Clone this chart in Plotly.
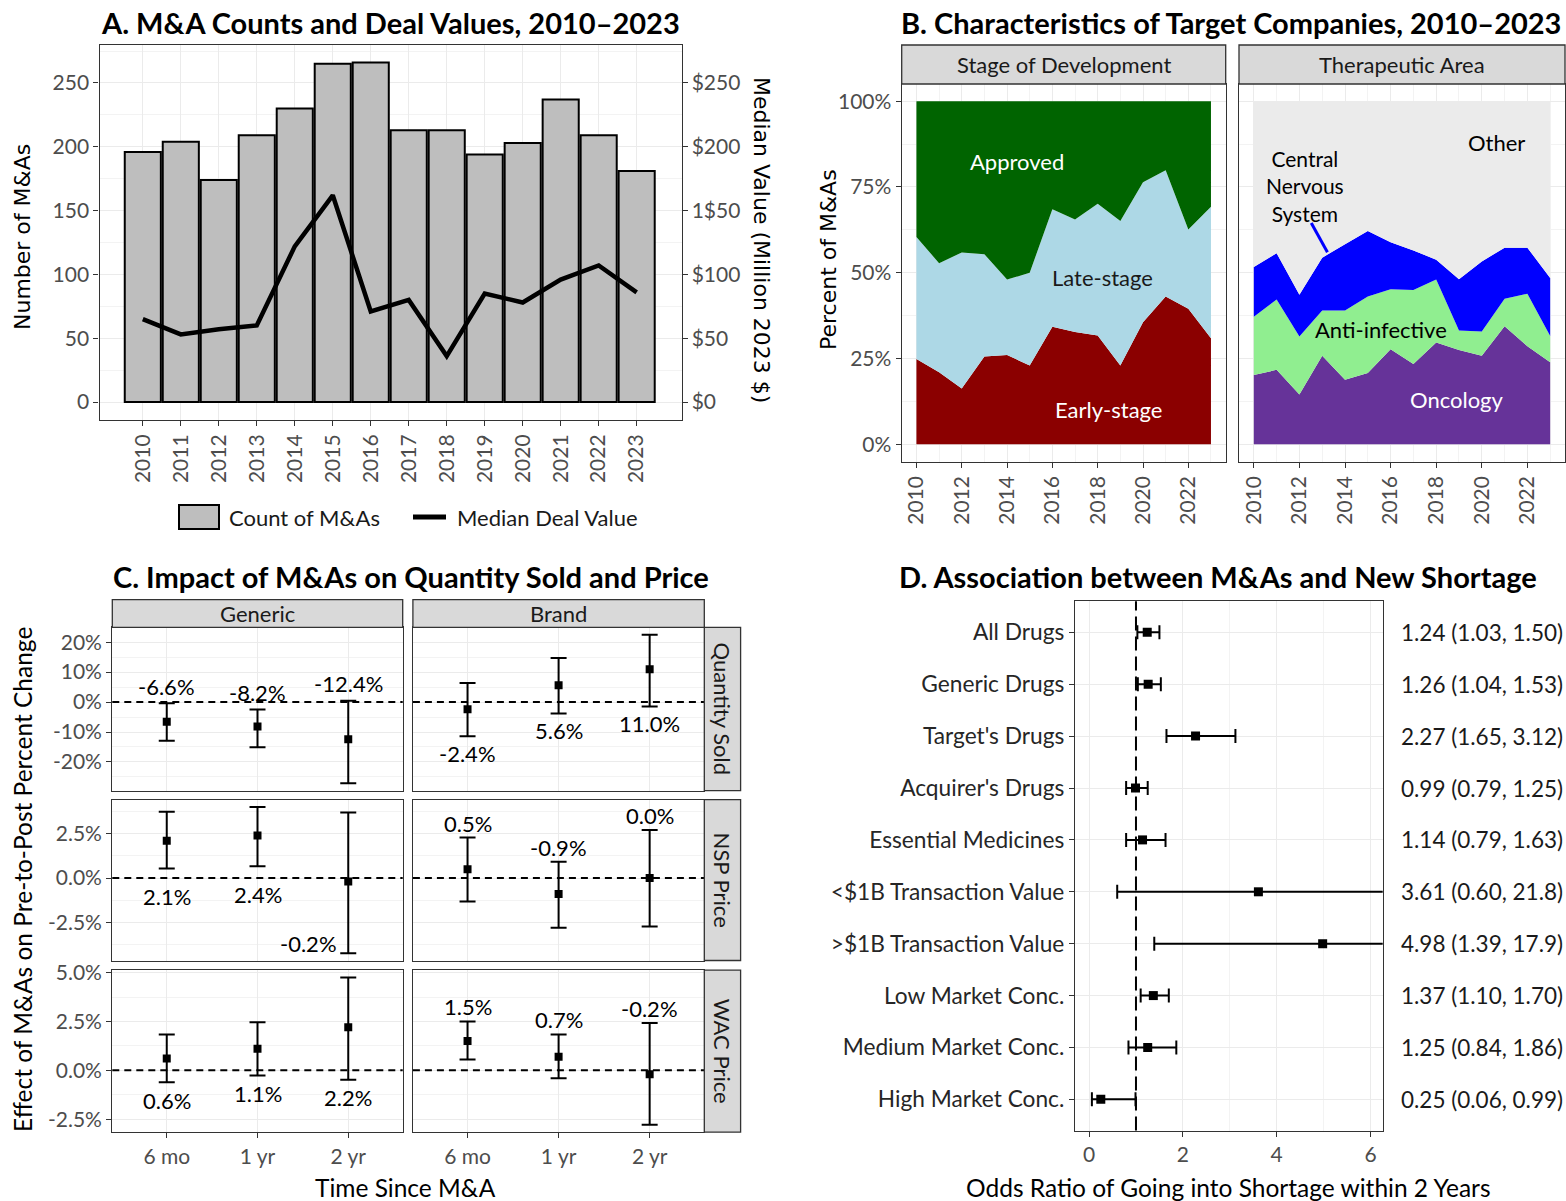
import plotly.graph_objects as go

W, H = 1566, 1201
FONT = "Lato, 'Open Sans', sans-serif"
WIDE = "'DejaVu Sans', Verdana, sans-serif"
TICK_GRAY = "#4D4D4D"
BORDER = "#333333"
GRID = "#EBEBEB"
GRID_MINOR = "#F3F3F3"

# ---------------- data ----------------
years = list(range(2010, 2024))
ma_counts = [196, 204, 174, 209, 230, 265, 266, 213, 213, 194, 203, 237, 209, 181]
median_value = [65, 53, 57, 60, 122, 162, 71, 80, 36, 85, 78, 96, 107, 86]
count_ticks = [0, 50, 100, 150, 200, 250]
value_ticks = [0, 50, 100, 150, 200, 250]
value_ticktext = ["$0", "$50", "$100", "1$50", "$200", "$250"]

# Panel B: shares (%) per year
stage_early = [24.9, 21.0, 16.3, 25.6, 26.0, 23.0, 34.3, 32.7, 31.7, 23.0, 35.6, 43.1, 39.5, 30.9]
stage_late = [35.5, 31.8, 39.6, 29.8, 22.0, 27.0, 34.2, 32.8, 38.4, 42.1, 40.8, 36.8, 23.1, 38.3]
stage_approved = [39.6, 47.2, 44.1, 44.6, 52.0, 50.0, 31.5, 34.5, 29.9, 34.9, 23.6, 20.1, 37.4, 30.8]

ther_oncology = [20.2, 21.7, 14.5, 25.8, 18.8, 20.8, 27.7, 23.4, 29.7, 27.5, 25.8, 34.4, 28.6, 23.9]
ther_antiinf = [17.0, 20.5, 16.9, 13.2, 20.2, 22.3, 17.5, 21.6, 18.3, 5.7, 7.1, 8.0, 15.3, 7.7]
ther_cns = [14.5, 13.5, 12.2, 15.4, 19.3, 19.1, 13.7, 11.5, 5.8, 14.9, 20.4, 14.9, 13.4, 16.9]
ther_other = [48.3, 44.3, 56.4, 45.6, 41.7, 37.8, 41.1, 43.5, 46.2, 51.9, 46.7, 42.7, 42.7, 51.5]
pct_ticks = [0, 25, 50, 75, 100]
pct_ticktext = ["0%", "25%", "50%", "75%", "100%"]

# Panel C: estimates and 95% CI (percent)
time_cats = ["6 mo", "1 yr", "2 yr"]
qs_generic_est = [-6.6, -8.2, -12.4]
qs_generic_lo = [-12.9, -15.1, -27.1]
qs_generic_hi = [-0.4, -2.5, 0.4]
qs_brand_est = [-2.4, 5.6, 11.0]
qs_brand_lo = [-11.4, -3.8, -1.5]
qs_brand_hi = [6.4, 14.7, 22.5]
nsp_generic_est = [2.1, 2.4, -0.2]
nsp_generic_lo = [0.53, 0.67, -4.24]
nsp_generic_hi = [3.74, 4.01, 3.69]
nsp_brand_est = [0.5, -0.9, 0.0]
nsp_brand_lo = [-1.33, -2.80, -2.73]
nsp_brand_hi = [2.29, 0.92, 2.71]
wac_generic_est = [0.6, 1.1, 2.2]
wac_generic_lo = [-0.61, -0.27, -0.48]
wac_generic_hi = [1.83, 2.46, 4.75]
wac_brand_est = [1.5, 0.7, -0.2]
wac_brand_lo = [0.55, -0.40, -2.79]
wac_brand_hi = [2.50, 1.83, 2.42]
qs_ticks = [-20, -10, 0, 10, 20]
qs_ticktext = ["-20%", "-10%", "0%", "10%", "20%"]
nsp_ticks = [-2.5, 0, 2.5]
nsp_ticktext = ["-2.5%", "0.0%", "2.5%"]
wac_ticks = [-2.5, 0, 2.5, 5.0]
wac_ticktext = ["-2.5%", "0.0%", "2.5%", "5.0%"]

# Panel D: odds ratios
d_cats = ["All Drugs", "Generic Drugs", "Target's Drugs", "Acquirer's Drugs",
          "Essential Medicines", "<$1B Transaction Value", ">$1B Transaction Value",
          "Low Market Conc.", "Medium Market Conc.", "High Market Conc."]
d_or = [1.24, 1.26, 2.27, 0.99, 1.14, 3.61, 4.98, 1.37, 1.25, 0.25]
d_lo = [1.03, 1.04, 1.65, 0.79, 0.79, 0.60, 1.39, 1.10, 0.84, 0.06]
d_hi = [1.50, 1.53, 3.12, 1.25, 1.63, 21.8, 17.9, 1.70, 1.86, 0.99]
d_ticks = [0, 2, 4, 6]


# ---------------- helpers ----------------
def dom_x(a, b):
    return [a / W, b / W]


def dom_y(top, bottom):
    return [1 - bottom / H, 1 - top / H]


def axis_style(**kw):
    d = dict(showline=True, mirror=True, linecolor=BORDER, linewidth=1.3,
             ticks="outside", ticklen=5, tickwidth=1.1, tickcolor=BORDER,
             showgrid=True, gridcolor=GRID, gridwidth=1.2, zeroline=False,
             automargin=False,
             tickfont=dict(family=FONT, size=21, color=TICK_GRAY))
    d.update(kw)
    return d


def minor_vals(ticks):
    step = ticks[1] - ticks[0]
    return [ticks[0] - step / 2 + i * step for i in range(len(ticks) + 1)]


fig = go.Figure()
layout = {}
shapes = []
ann = []


def text(x, y, t, size=22, color="black", family=FONT, xanchor="center", yanchor="middle",
         xref="paper", yref="paper", angle=0, xshift=0, yshift=0):
    ann.append(dict(x=x, y=y, text=t, xref=xref, yref=yref, showarrow=False,
                    xanchor=xanchor, yanchor=yanchor, textangle=angle,
                    xshift=xshift, yshift=yshift,
                    font=dict(family=family, size=size, color=color)))


def strip(x0, x1, y0, y1, label, angle=0):
    shapes.append(dict(type="rect", xref="paper", yref="paper",
                       x0=x0 / W, x1=x1 / W, y0=1 - y1 / H, y1=1 - y0 / H,
                       fillcolor="#D9D9D9", line=dict(color=BORDER, width=1.3), layer="above"))
    text((x0 + x1) / 2 / W, 1 - (y0 + y1) / 2 / H, label, size=22, color="#1A1A1A", angle=angle)


TITLE_SIZE = 29

# ---------------- Panel A ----------------
fig.add_trace(go.Bar(x=years, y=ma_counts, width=0.95, xaxis="x", yaxis="y",
                     marker=dict(color="#BEBEBE", line=dict(color="black", width=2)),
                     showlegend=False, name="Count of M&As"))
fig.add_trace(go.Scatter(x=years, y=median_value, mode="lines", xaxis="x", yaxis="y2",
                         line=dict(color="black", width=4.5), showlegend=False,
                         name="Median Deal Value"))
a_range = [-13.9, 280]
layout["xaxis"] = axis_style(domain=dom_x(99.5, 681.5), anchor="y", range=[2008.86, 2024.18],
                             tickvals=years, ticktext=[str(y) for y in years], tickangle=-90)
layout["yaxis"] = axis_style(domain=dom_y(44.7, 419.8), anchor="x", range=a_range,
                             tickvals=count_ticks,
                             minor=dict(tickvals=minor_vals(count_ticks), showgrid=True,
                                        gridcolor=GRID_MINOR, gridwidth=0.8))
layout["yaxis2"] = axis_style(overlaying="y", side="right", anchor="x", range=a_range,
                              tickvals=value_ticks, ticktext=value_ticktext,
                              showgrid=False, showline=False, mirror=False)

text(99 / W, 1 - 22 / H, "<b>A. M&A Counts and Deal Values, 2010–2023</b>", size=TITLE_SIZE, xanchor="left")
text(22 / W, 1 - 237 / H, "Number of M&As", size=22, family=WIDE, angle=-90)
text(762 / W, 1 - 240 / H, "Median Value (Million 2023 $)", size=22, family=WIDE, angle=90)

# legend
shapes.append(dict(type="rect", xref="paper", yref="paper", x0=179 / W, x1=219 / W,
                   y0=1 - 529 / H, y1=1 - 505 / H, fillcolor="#BEBEBE",
                   line=dict(color="black", width=2)))
text(227 / W, 1 - 517 / H, "Count of M&As", size=22, color="#1A1A1A", xanchor="left")
shapes.append(dict(type="line", xref="paper", yref="paper", x0=413 / W, x1=446 / W,
                   y0=1 - 517 / H, y1=1 - 517 / H, line=dict(color="black", width=5)))
text(455 / W, 1 - 517 / H, "Median Deal Value", size=22, color="#1A1A1A", xanchor="left")

# ---------------- Panel B ----------------
b_xrange = [2009.35, 2023.65]
b_yrange = [-5, 105]
for name, vals, col in [("Early-stage", stage_early, "#8B0000"),
                        ("Late-stage", stage_late, "#ADD8E6"),
                        ("Approved", stage_approved, "#006400")]:
    fig.add_trace(go.Scatter(x=years, y=vals, stackgroup="stage", mode="lines",
                             line=dict(width=0, color=col), fillcolor=col,
                             xaxis="x3", yaxis="y3", showlegend=False, name=name))
for name, vals, col in [("Oncology", ther_oncology, "#663399"),
                        ("Anti-infective", ther_antiinf, "#90EE90"),
                        ("Central Nervous System", ther_cns, "#0000FF"),
                        ("Other", ther_other, "#EBEBEB")]:
    fig.add_trace(go.Scatter(x=years, y=vals, stackgroup="ther", mode="lines",
                             line=dict(width=0, color=col), fillcolor=col,
                             xaxis="x4", yaxis="y4", showlegend=False, name=name))

b_ydom = dom_y(84, 461.5)
for xa, ya, xd, show_y in [("xaxis3", "yaxis3", dom_x(901.7, 1225.7), True),
                           ("xaxis4", "yaxis4", dom_x(1239, 1565), False)]:
    layout[xa] = axis_style(domain=xd, anchor="y" + ya[5:], range=b_xrange,
                            tick0=2010, dtick=2, tickangle=-90,
                            minor=dict(dtick=1, tick0=2010, showgrid=True,
                                       gridcolor=GRID_MINOR, gridwidth=0.8))
    layout[ya] = axis_style(domain=b_ydom, anchor="x" + xa[5:], range=b_yrange,
                            tickvals=pct_ticks, ticktext=pct_ticktext,
                            showticklabels=show_y, ticks="outside" if show_y else "",
                            minor=dict(tickvals=minor_vals(pct_ticks), showgrid=True,
                                       gridcolor=GRID_MINOR, gridwidth=0.8))

text(899 / W, 1 - 22 / H, "<b>B. Characteristics of Target Companies, 2010–2023</b>",
     size=TITLE_SIZE, xanchor="left")
text(828 / W, 1 - 260 / H, "Percent of M&As", size=22, family=WIDE, angle=-90)
strip(901.7, 1225.7, 45, 84, "Stage of Development")
strip(1239, 1565, 45, 84, "Therapeutic Area")

text(2014.44, 82.3, "Approved", xref="x3", yref="y3", color="white")
text(2018.23, 48.6, "Late-stage", xref="x3", yref="y3", color="#1A1A1A")
text(2018.49, 10.1, "Early-stage", xref="x3", yref="y3", color="white")
text(2020.65, 88.1, "Other", xref="x4", yref="y4")
text(2012.24, 75.3, "Central<br>Nervous<br>System", xref="x4", yref="y4", size=21)
text(2015.56, 33.4, "Anti-infective", xref="x4", yref="y4")
text(2018.9, 13.2, "Oncology", xref="x4", yref="y4", color="white")
shapes.append(dict(type="line", xref="x4", yref="y4", x0=2012.52, y0=64.5, x1=2013.23, y1=56.0,
                   line=dict(color="#0000FF", width=3)))

# ---------------- Panel C ----------------
c_rows = [
    dict(measure="Quantity Sold", ticks=qs_ticks, ticktext=qs_ticktext,
         data={"Generic": (qs_generic_est, qs_generic_lo, qs_generic_hi),
               "Brand": (qs_brand_est, qs_brand_lo, qs_brand_hi)},
         side={"Generic": ("above", 17), "Brand": ("below", 17)}),
    dict(measure="NSP Price", ticks=nsp_ticks, ticktext=nsp_ticktext,
         data={"Generic": (nsp_generic_est, nsp_generic_lo, nsp_generic_hi),
               "Brand": (nsp_brand_est, nsp_brand_lo, nsp_brand_hi)},
         side={"Generic": ("below", 28), "Brand": ("above", 14)}),
    dict(measure="WAC Price", ticks=wac_ticks, ticktext=wac_ticktext,
         data={"Generic": (wac_generic_est, wac_generic_lo, wac_generic_hi),
               "Brand": (wac_brand_est, wac_brand_lo, wac_brand_hi)},
         side={"Generic": ("below", 18), "Brand": ("above", 15)}),
]
c_cols = [("Generic", (112.3, 402.7)), ("Brand", (412.9, 704.3))]
c_row_px = [(627.3, 790.6), (799.6, 960.5), (970.2, 1132.2)]

for r, row in enumerate(c_rows):
    allv = []
    for est, lo, hi in row["data"].values():
        allv += lo + hi
    lo_all, hi_all = min(allv), max(allv)
    pad = 0.05 * (hi_all - lo_all)
    yr = [lo_all - pad, hi_all + pad]
    for c, (dtype, (xl, xr)) in enumerate(c_cols):
        k = 5 + r * 2 + c
        est, lo, hi = row["data"][dtype]
        fig.add_trace(go.Scatter(
            x=time_cats, y=est, mode="markers", xaxis=f"x{k}", yaxis=f"y{k}",
            marker=dict(symbol="square", size=8, color="black"),
            error_y=dict(type="data", symmetric=False,
                         array=[h - e for h, e in zip(hi, est)],
                         arrayminus=[e - l for e, l in zip(est, lo)],
                         color="black", thickness=2, width=8),
            showlegend=False, name=f"{dtype} {row['measure']}"))
        bottom = r == len(c_rows) - 1
        layout[f"xaxis{k}"] = axis_style(
            domain=dom_x(xl, xr), anchor=f"y{k}", type="category",
            categoryorder="array", categoryarray=time_cats, range=[-0.6, 2.6],
            showticklabels=bottom, ticks="outside" if bottom else "")
        layout[f"yaxis{k}"] = axis_style(
            domain=dom_y(*c_row_px[r]), anchor=f"x{k}", range=yr,
            tickvals=row["ticks"], ticktext=row["ticktext"],
            showticklabels=(c == 0), ticks="outside" if c == 0 else "",
            minor=dict(tickvals=minor_vals(row["ticks"]), showgrid=True,
                       gridcolor=GRID_MINOR, gridwidth=0.8))
        shapes.append(dict(type="line", xref=f"x{k} domain", yref=f"y{k}", x0=0, x1=1, y0=0, y1=0,
                           line=dict(color="black", width=2, dash="7px,5px")))
        side, off = row["side"][dtype]
        for i, cat in enumerate(time_cats):
            lab = f"{est[i]:.1f}%"
            if side == "above":
                text(cat, hi[i], lab, xref=f"x{k}", yref=f"y{k}", yshift=off)
            elif dtype == "Generic" and row["measure"] == "NSP Price" and i == 2:
                text(cat, lo[i], lab, xref=f"x{k}", yref=f"y{k}", xshift=-40, yshift=10)
            else:
                text(cat, lo[i], lab, xref=f"x{k}", yref=f"y{k}", yshift=-off)
    strip(704.3, 740.6, c_row_px[r][0], c_row_px[r][1], row["measure"], angle=90)

for dtype, (xl, xr) in c_cols:
    strip(xl, xr, 599.6, 627.3, dtype)

text(111 / W, 1 - 576 / H, "<b>C. Impact of M&As on Quantity Sold and Price</b>", size=TITLE_SIZE, xanchor="left")
text(22 / W, 1 - 880 / H, "Effect of M&As on Pre-to-Post Percent Change", size=24.5, angle=-90)
text(405 / W, 1 - 1187 / H, "Time Since M&A", size=24.5)

# ---------------- Panel D ----------------
fig.add_trace(go.Scatter(
    x=d_or, y=d_cats, mode="markers", xaxis="x11", yaxis="y11",
    marker=dict(symbol="square", size=9, color="black"),
    error_x=dict(type="data", symmetric=False,
                 array=[h - o for h, o in zip(d_hi, d_or)],
                 arrayminus=[o - l for o, l in zip(d_or, d_lo)],
                 color="black", thickness=2, width=7),
    showlegend=False, name="Odds ratio"))
layout["xaxis11"] = axis_style(domain=dom_x(1075, 1382.7), anchor="y11", range=[-0.3, 6.26],
                               tickvals=d_ticks,
                               minor=dict(tickvals=[1, 3, 5], showgrid=True,
                                          gridcolor=GRID_MINOR, gridwidth=0.8))
layout["yaxis11"] = axis_style(domain=dom_y(601.2, 1130.5), anchor="x11", type="category",
                               categoryorder="array", categoryarray=d_cats,
                               range=[len(d_cats) - 0.4, -0.6],
                               tickfont=dict(family=FONT, size=22.7, color="#262626"))
shapes.append(dict(type="line", xref="x11", yref="y11 domain", x0=1, x1=1, y0=0, y1=1,
                   line=dict(color="black", width=2, dash="14px,6px")))


def fmt(v):
    return f"{v:.1f}" if v >= 10 else f"{v:.2f}"


for cat, o, l, h in zip(d_cats, d_or, d_lo, d_hi):
    text(1399 / W, cat, f"{fmt(o)} ({fmt(l)}, {fmt(h)})", xref="paper", yref="y11",
         xanchor="left", color="#1A1A1A", size=22.5)

text(897 / W, 1 - 576 / H, "<b>D. Association between M&As and New Shortage</b>", size=TITLE_SIZE, xanchor="left")
text(1228 / W, 1 - 1187 / H, "Odds Ratio of Going into Shortage within 2 Years", size=24.5)

fig.update_layout(width=W, height=H,
                  margin=dict(l=0, r=0, t=0, b=0, pad=0, autoexpand=False),
                  paper_bgcolor="white", plot_bgcolor="white",
                  font=dict(family=FONT, size=21, color="black"),
                  showlegend=False, shapes=shapes, annotations=ann, **layout)

fig.write_html("out.html", config={"responsive": False})
